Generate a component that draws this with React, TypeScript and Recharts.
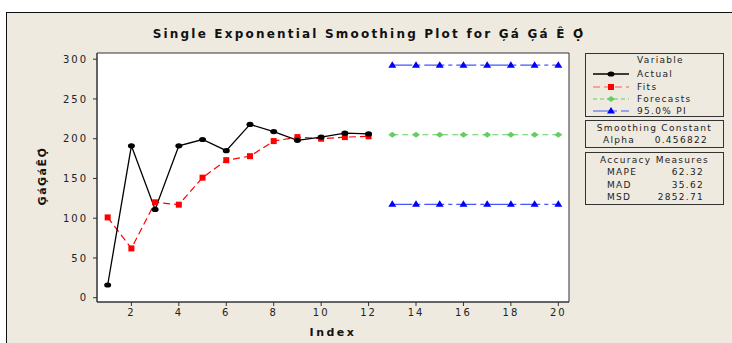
import React from 'react';
import { ComposedChart, Line, XAxis, YAxis, CartesianGrid, ReferenceArea } from 'recharts';

// values
const indexes = [1, 2, 3, 4, 5, 6, 7, 8, 9, 10, 11, 12, 13, 14, 15, 16, 17, 18, 19, 20];
const actual = [16, 191, 111, 191, 199, 185, 218, 209, 198, 202, 207, 206];
const fits = [101, 62, 120, 117, 151, 173, 178, 197, 202, 200, 202, 203];
const forecasts = [205, 205, 205, 205, 205, 205, 205, 205];
const upperPI = [292.5, 292.5, 292.5, 292.5, 292.5, 292.5, 292.5, 292.5];
const lowerPI = [117.5, 117.5, 117.5, 117.5, 117.5, 117.5, 117.5, 117.5];
const xTicks = [2, 4, 6, 8, 10, 12, 14, 16, 18, 20];
const yTicks = [0, 50, 100, 150, 200, 250, 300];

const nFit = actual.length;
const data = indexes.map((idx, i) => ({
  idx,
  actual: i < nFit ? actual[i] : null,
  fits: i < nFit ? fits[i] : null,
  forecast: i >= nFit ? forecasts[i - nFit] : null,
  upper: i >= nFit ? upperPI[i - nFit] : null,
  lower: i >= nFit ? lowerPI[i - nFit] : null,
}));

const BG = '#EEEAE0';
const INK = '#222';
const RED = '#FF0000';
const GREEN = '#66CC66';
const BLUE = '#0000FF';
const FONT = '"DejaVu Sans", Verdana, sans-serif';

const titleText = 'Single Exponential Smoothing Plot for Ģá Ģá Ê Ọ̇';
const yLabel = 'ĢáĢáÊỌ̇';

// marker shapes
const ellipseDot = (p: any) =>
  p.cy == null ? <g key={p.index} /> : <ellipse key={p.index} cx={p.cx} cy={p.cy} rx={3.5} ry={2.6} fill="#000" />;
const squareDot = (p: any) =>
  p.cy == null ? <g key={p.index} /> : <rect key={p.index} x={p.cx - 3} y={p.cy - 3} width={6} height={6} fill={RED} />;
const diamondDot = (p: any) =>
  p.cy == null ? <g key={p.index} /> : (
    <polygon key={p.index} points={`${p.cx},${p.cy - 3} ${p.cx + 4},${p.cy} ${p.cx},${p.cy + 3} ${p.cx - 4},${p.cy}`} fill={GREEN} />
  );
const triDot = (p: any) =>
  p.cy == null ? <g key={p.index} /> : (
    <polygon key={p.index} points={`${p.cx},${p.cy - 4} ${p.cx + 4},${p.cy + 2.5} ${p.cx - 4},${p.cy + 2.5}`} fill={BLUE} />
  );

const boxStyle: React.CSSProperties = {
  position: 'absolute',
  left: 585,
  width: 139,
  border: '1px solid #333',
  boxSizing: 'border-box',
  fontFamily: FONT,
  fontSize: 9,
  letterSpacing: 1.3,
  color: INK,
};

function LegendRow({ top, label, children }: { top: number; label: string; children: React.ReactNode }) {
  return (
    <div style={{ position: 'absolute', left: 0, top, height: 12, width: 137 }}>
      <svg width={40} height={12} style={{ position: 'absolute', left: 5, top: 0 }}>
        {children}
      </svg>
      <span style={{ position: 'absolute', left: 51, top: 0, lineHeight: '12px' }}>{label}</span>
    </div>
  );
}

export default function App() {
  return (
    <div style={{ position: 'fixed', left: 0, top: 0, width: 732, height: 343, background: '#fff', overflow: 'hidden' }}>
      {/* beige frame */}
      <div style={{ position: 'absolute', left: 6, top: 12, width: 740, height: 350, background: BG, border: '1.5px solid #111', boxSizing: 'border-box' }} />

      <div style={{ position: 'absolute', left: 0, top: 27, width: 738, textAlign: 'center', fontFamily: FONT, fontWeight: 'bold', fontSize: 12, letterSpacing: 2.2, color: '#111' }}>
        {titleText}
      </div>

      <div style={{ position: 'absolute', left: 42, top: 176, transform: 'translate(-50%, -50%) rotate(-90deg)', fontFamily: FONT, fontWeight: 'bold', fontSize: 11, letterSpacing: 1.5, color: '#111', whiteSpace: 'nowrap' }}>
        {yLabel}
      </div>

      <div style={{ position: 'absolute', left: 0, top: 0 }}>
        <ComposedChart width={732} height={343} data={data} margin={{ top: 53, right: 163, bottom: 0, left: 37 }}>
          <CartesianGrid fill="#fff" horizontal={false} vertical={false} />
          <ReferenceArea x1={0.55} x2={20.45} y1={-5.4} y2={307.8} fill="none" stroke="#333" strokeWidth={1} ifOverflow="visible" />
          <XAxis
            dataKey="idx"
            type="number"
            domain={[0.55, 20.45]}
            ticks={xTicks}
            allowDataOverflow
            height={41}
            axisLine={{ stroke: '#333' }}
            tickLine={{ stroke: '#333' }}
            tickSize={4}
            tickMargin={3}
            tick={{ fill: INK, fontSize: 10, fontFamily: FONT, letterSpacing: 2 }}
            label={{ value: 'Index', position: 'insideBottom', offset: 7, style: { fill: '#111', fontSize: 11, fontWeight: 'bold', fontFamily: FONT, letterSpacing: 2.5 } }}
          />
          <YAxis
            type="number"
            domain={[-5.4, 307.8]}
            ticks={yTicks}
            allowDataOverflow
            width={60}
            axisLine={{ stroke: '#333' }}
            tickLine={{ stroke: '#333' }}
            tickSize={4}
            tickMargin={5}
            tick={{ fill: INK, fontSize: 10, fontFamily: FONT, letterSpacing: 2 }}
          />
          <Line dataKey="upper" stroke="#4455FF" strokeWidth={1.2} strokeDasharray="20 4 4 4" dot={triDot} isAnimationActive={false} connectNulls={false} />
          <Line dataKey="lower" stroke="#4455FF" strokeWidth={1.2} strokeDasharray="20 4 4 4" dot={triDot} isAnimationActive={false} connectNulls={false} />
          <Line dataKey="forecast" stroke={GREEN} strokeWidth={1.2} strokeDasharray="6 4" dot={diamondDot} isAnimationActive={false} connectNulls={false} />
          <Line dataKey="fits" stroke={RED} strokeWidth={1.2} strokeDasharray="7 4" dot={squareDot} isAnimationActive={false} connectNulls={false} />
          <Line dataKey="actual" stroke="#000" strokeWidth={1.3} dot={ellipseDot} isAnimationActive={false} connectNulls={false} />
        </ComposedChart>
      </div>

      {/* legend */}
      <div style={{ ...boxStyle, top: 53, height: 64 }}>
        <div style={{ position: 'absolute', left: 0, width: 137, top: 1, textAlign: 'center', paddingLeft: 12, boxSizing: 'border-box' }}>Variable</div>
        <LegendRow top={14} label="Actual">
          <line x1={2} y1={6} x2={38} y2={6} stroke="#000" strokeWidth={1.3} />
          <ellipse cx={20} cy={6} rx={3.5} ry={2.6} fill="#000" />
        </LegendRow>
        <LegendRow top={26.5} label="Fits">
          <line x1={2} y1={6} x2={38} y2={6} stroke={RED} strokeWidth={1.2} strokeDasharray="7 4" opacity={0.6} />
          <rect x={17} y={3} width={6} height={6} fill={RED} />
        </LegendRow>
        <LegendRow top={39} label="Forecasts">
          <line x1={2} y1={6} x2={38} y2={6} stroke={GREEN} strokeWidth={1.2} strokeDasharray="4 3" />
          <polygon points="20,3 24,6 20,9 16,6" fill={GREEN} />
        </LegendRow>
        <LegendRow top={51} label="95.0% PI">
          <line x1={2} y1={6} x2={38} y2={6} stroke="#4455FF" strokeWidth={1.2} strokeDasharray="16 4 4 4" />
          <polygon points="20,2 24,8.5 16,8.5" fill={BLUE} />
        </LegendRow>
      </div>

      <div style={{ ...boxStyle, top: 120, height: 28 }}>
        <div style={{ position: 'absolute', left: 0, width: 137, top: 2, textAlign: 'center' }}>Smoothing Constant</div>
        <div style={{ position: 'absolute', left: 17, top: 14 }}>Alpha</div>
        <div style={{ position: 'absolute', right: 15, top: 14 }}>0.456822</div>
      </div>

      <div style={{ ...boxStyle, top: 152, height: 53 }}>
        <div style={{ position: 'absolute', left: 0, width: 137, top: 2, textAlign: 'center' }}>Accuracy Measures</div>
        <div style={{ position: 'absolute', left: 21, top: 14 }}>MAPE</div>
        <div style={{ position: 'absolute', right: 19, top: 14 }}>62.32</div>
        <div style={{ position: 'absolute', left: 21, top: 26.5 }}>MAD</div>
        <div style={{ position: 'absolute', right: 19, top: 26.5 }}>35.62</div>
        <div style={{ position: 'absolute', left: 21, top: 38.5 }}>MSD</div>
        <div style={{ position: 'absolute', right: 19, top: 38.5 }}>2852.71</div>
      </div>
    </div>
  );
}
